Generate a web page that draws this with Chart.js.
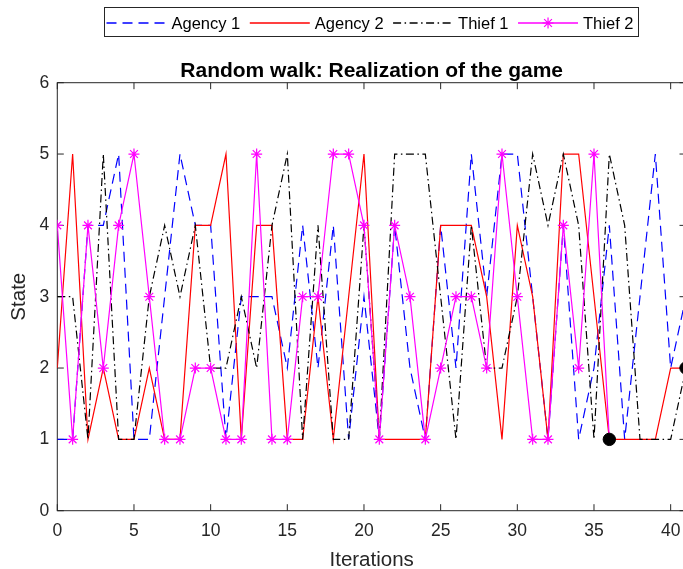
<!DOCTYPE html>
<html><head><meta charset="utf-8">
<script src="https://cdn.jsdelivr.net/npm/chart.js@4.4.1/dist/chart.umd.min.js"></script>
<style>
html,body{margin:0;padding:0;overflow:hidden;background:#fff;width:683px;height:569px}
#c{position:absolute;left:0;top:0}
</style>
</head><body>
<canvas id="c" width="700" height="580" style="width:700px;height:580px"></canvas>
<script>
// ---- data ----
const iterations = [0,1,2,3,4,5,6,7,8,9,10,11,12,13,14,15,16,17,18,19,20,21,22,23,24,25,26,27,28,29,30,31,32,33,34,35,36,37,38,39,40,41];
const agency1 = [1,1,4,4,5,1,1,3,5,4,4,1,3,3,3,2,4,2,4,1,3,1,4,2,1,4,2,5,3,5,5,3,1,4,1,2,4,1,3,5,2,3];
const agency2 = [2,5,1,2,1,1,2,1,1,4,4,5,1,4,4,1,1,3,1,3,5,1,1,1,1,4,4,4,3,1,4,3,1,5,5,3,1,1,1,1,2,2];
const thief1  = [3,3,1,5,1,1,3,4,3,4,2,2,3,2,4,5,1,4,1,1,4,1,5,5,5,3,1,4,2,2,3,5,4,5,4,1,5,4,1,1,1,2];
const thief2  = [4,1,4,2,4,5,3,1,1,2,2,1,1,5,1,1,3,3,5,5,4,1,4,3,1,2,3,3,2,5,3,1,1,4,2,5,1];
const captureX = [36, 41];
const captureY = [1, 2];
const xTicks = [0,5,10,15,20,25,30,35,40];
const yTicks = [0,1,2,3,4,5,6];
const seriesNames = ['Agency 1','Agency 2','Thief 1','Thief 2'];
const chartTitle = 'Random walk: Realization of the game';
const xLabel = 'Iterations';
const yLabel = 'State';

// ---- styles ----
const FONT = '"Liberation Sans", Arial, Helvetica, sans-serif';
const AXC = '#262626';
const styles = [
  {color: '#0000ff', dash: [10, 6], star: false},
  {color: '#ff0000', dash: [], star: false},
  {color: '#000000', dash: [8, 3.5, 1.5, 3.5], star: false},
  {color: '#ff00ff', dash: [], star: true}
];
const LW = 1.2, STAR_R = 5.5;

function drawStar(ctx, x, y, r) {
  ctx.beginPath();
  for (let k = 0; k < 4; k++) {
    const a = k * Math.PI / 4;
    ctx.moveTo(x - r * Math.cos(a), y - r * Math.sin(a));
    ctx.lineTo(x + r * Math.cos(a), y + r * Math.sin(a));
  }
  ctx.stroke();
}

const boxPlugin = {
  id: 'matlabBox',
  beforeDatasetsDraw(chart) {
    const {ctx, chartArea: a, scales} = chart;
    ctx.save();
    ctx.strokeStyle = AXC; ctx.lineWidth = 1; ctx.setLineDash([]);
    ctx.strokeRect(a.left, a.top, a.right - a.left, a.bottom - a.top);
    const tl = 6.5;
    ctx.beginPath();
    xTicks.forEach(v => {
      const px = scales.x.getPixelForValue(v);
      ctx.moveTo(px, a.bottom); ctx.lineTo(px, a.bottom - tl);
      ctx.moveTo(px, a.top); ctx.lineTo(px, a.top + tl);
    });
    yTicks.forEach(v => {
      const py = scales.y.getPixelForValue(v);
      ctx.moveTo(a.left, py); ctx.lineTo(a.left + tl, py);
      ctx.moveTo(a.right, py); ctx.lineTo(a.right - tl, py);
    });
    ctx.stroke();
    ctx.restore();
  },
  afterDraw(chart) {
    const {ctx, chartArea: a} = chart;
    ctx.save();
    // title
    ctx.fillStyle = '#000';
    ctx.font = 'bold 21px ' + FONT;
    ctx.textAlign = 'center'; ctx.textBaseline = 'alphabetic';
    ctx.fillText(chartTitle, (a.left + a.right) / 2, 77);
    // legend
    const bx = 104.5, by = 7.5, bw = 534, bh = 29;
    ctx.fillStyle = '#fff'; ctx.fillRect(bx, by, bw, bh);
    ctx.strokeStyle = AXC; ctx.lineWidth = 1; ctx.setLineDash([]);
    ctx.strokeRect(bx, by, bw, bh);
    ctx.font = '16.5px ' + FONT;
    ctx.textAlign = 'left'; ctx.textBaseline = 'middle';
    let x = 106.5; const y = 23;
    for (let i = 0; i < seriesNames.length; i++) {
      const st = styles[i];
      ctx.beginPath();
      ctx.strokeStyle = st.color; ctx.lineWidth = 1.6;
      ctx.setLineDash(st.dash);
      ctx.moveTo(x, y); ctx.lineTo(x + 60, y); ctx.stroke();
      ctx.setLineDash([]);
      if (st.star) {
        ctx.strokeStyle = st.color; ctx.lineWidth = LW;
        drawStar(ctx, x + 30, y, STAR_R);
      }
      ctx.fillStyle = '#000';
      ctx.fillText(seriesNames[i], x + 65, y + 1);
      x += 65 + ctx.measureText(seriesNames[i]).width + 9.5;
    }
    ctx.restore();
  }
};

const tickFont = {family: FONT, size: 17.5};
const titleFont = {family: FONT, size: 20.5};
const seriesData = [agency1, agency2, thief1, thief2];

const datasets = seriesData.map((d, i) => ({
  label: seriesNames[i],
  data: d,
  borderColor: styles[i].color,
  borderWidth: LW,
  borderDash: styles[i].dash,
  pointRadius: styles[i].star ? STAR_R : 0,
  pointStyle: styles[i].star ? 'star' : 'circle',
  pointBorderColor: styles[i].color,
  pointBackgroundColor: styles[i].color,
  pointBorderWidth: LW,
  fill: false,
  tension: 0,
  order: 5 - i
}));
datasets.push({
  label: 'capture',
  data: captureX.map((v, i) => ({x: v, y: captureY[i]})),
  showLine: false, pointRadius: 6.2,
  pointBackgroundColor: '#000', pointBorderColor: '#000', pointBorderWidth: 1,
  clip: false, order: 0
});

new Chart(document.getElementById('c'), {
  type: 'line',
  data: {labels: iterations, datasets},
  options: {
    responsive: false,
    animation: false,
    events: [],
    layout: {padding: {left: 0, right: 14, top: 82.7, bottom: 0}},
    plugins: {legend: {display: false}, title: {display: false}, tooltip: {enabled: false}},
    scales: {
      x: {
        type: 'linear', min: 0, max: 41,
        grid: {display: false, drawTicks: false},
        border: {display: false},
        afterBuildTicks: s => { s.ticks = xTicks.map(v => ({value: v})); },
        afterFit: s => { s.height = 69.3; },
        ticks: {font: tickFont, color: AXC, padding: 9.5, maxRotation: 0, autoSkip: false},
        title: {display: true, text: xLabel, font: titleFont, color: AXC, padding: {top: 0, bottom: 7}}
      },
      y: {
        type: 'linear', min: 0, max: 6,
        grid: {display: false, drawTicks: false},
        border: {display: false},
        afterBuildTicks: s => { s.ticks = yTicks.map(v => ({value: v})); },
        afterFit: s => { s.width = 57.3; },
        ticks: {font: tickFont, color: AXC, padding: 8, autoSkip: false},
        title: {display: true, text: yLabel, font: titleFont, color: AXC, padding: {top: 7.5, bottom: 0}}
      }
    }
  },
  plugins: [boxPlugin]
});
</script>
</body></html>
